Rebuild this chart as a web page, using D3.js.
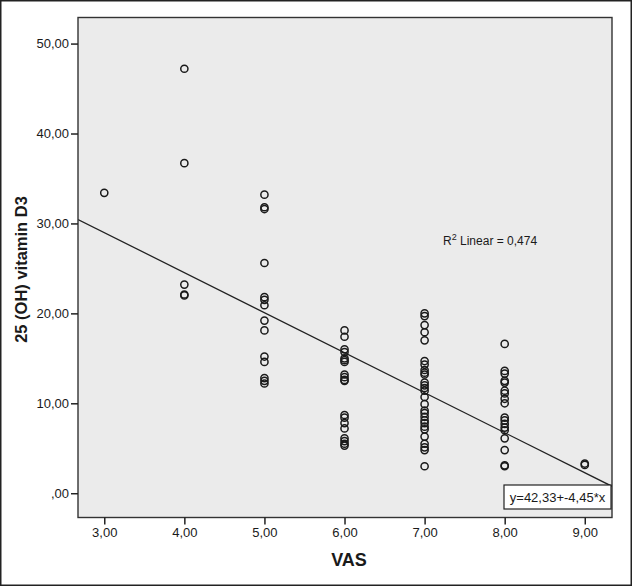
<!DOCTYPE html>
<html>
<head>
<meta charset="utf-8">
<script src="https://cdn.jsdelivr.net/npm/d3@7"></script>
<style>
  html, body { margin: 0; padding: 0; background: #fff; }
  svg { display: block; }
  text { font-family: "Liberation Sans", Arial, sans-serif; fill: #1a1a1a; }
</style>
</head>
<body>
<svg id="chart" width="632" height="586"></svg>
<script>
// ---- data ----
const vas3 = [33.4];
const vas4 = [47.2, 36.7, 23.2, 22.1, 22.0];
const vas5 = [33.2, 31.8, 31.6, 25.6, 21.8, 21.5, 20.9, 19.2, 18.1, 15.2, 14.6, 12.8, 12.5, 12.2];
const vas6 = [18.1, 17.4, 16.0, 15.7, 15.0, 14.8, 14.6, 13.2, 12.9, 12.6, 12.5, 8.7, 8.4, 7.8, 7.2, 6.1, 5.8, 5.5, 5.3];
const vas7 = [20.0, 19.7, 18.7, 17.9, 17.0, 14.7, 14.3, 13.7, 13.4, 13.2, 12.3, 12.0, 11.7, 11.4, 10.7, 9.9, 9.2, 8.9, 8.5, 8.1, 7.8, 7.4, 7.1, 6.3, 5.5, 5.1, 4.8, 3.0];
const vas8 = [16.6, 13.6, 13.3, 12.5, 12.3, 11.4, 11.1, 10.5, 10.0, 8.4, 8.1, 7.7, 7.3, 7.0, 6.1, 4.8, 3.1, 3.0];
const vas9 = [3.3, 3.15];

const xTicks = [3, 4, 5, 6, 7, 8, 9];
const xTickLabels = ["3,00", "4,00", "5,00", "6,00", "7,00", "8,00", "9,00"];
const yTicks = [0, 10, 20, 30, 40, 50];
const yTickLabels = [",00", "10,00", "20,00", "30,00", "40,00", "50,00"];

const fitIntercept = 42.33;
const fitSlope = -4.45;
const r2Label = "0,474";
const eqLabel = "y=42,33+-4,45*x";
const xTitle = "VAS";
const yTitle = "25 (OH) vitamin D3";

const groups = [[3, vas3], [4, vas4], [5, vas5], [6, vas6], [7, vas7], [8, vas8], [9, vas9]];
const points = [];
groups.forEach(([v, arr]) => arr.forEach(d => points.push({ x: v, y: d })));

// ---- layout ----
const W = 632, H = 586;
const plot = { left: 78, top: 17.5, right: 612, bottom: 517.5 };

const x = d3.scaleLinear().domain([2.672, 9.34]).range([plot.left, plot.right]);
const y = d3.scaleLinear().domain([-2.7, 52.9]).range([plot.bottom, plot.top]);

const svg = d3.select("#chart");

// outer frame
svg.append("rect").attr("x", 0.75).attr("y", 0.75).attr("width", W - 1.5).attr("height", H - 1.5)
  .attr("fill", "#fff").attr("stroke", "#222").attr("stroke-width", 1.5);

// plot background
svg.append("rect").attr("x", plot.left).attr("y", plot.top)
  .attr("width", plot.right - plot.left).attr("height", plot.bottom - plot.top)
  .attr("fill", "#ebebeb");

svg.append("clipPath").attr("id", "clip").append("rect")
  .attr("x", plot.left).attr("y", plot.top)
  .attr("width", plot.right - plot.left).attr("height", plot.bottom - plot.top);

// regression line
const [x0, x1] = x.domain();
svg.append("line")
  .attr("clip-path", "url(#clip)")
  .attr("x1", x(x0)).attr("y1", y(fitIntercept + fitSlope * x0))
  .attr("x2", x(x1)).attr("y2", y(fitIntercept + fitSlope * x1))
  .attr("stroke", "#222").attr("stroke-width", 1.3);

// points
svg.append("g").attr("clip-path", "url(#clip)")
  .selectAll("circle").data(points).enter().append("circle")
  .attr("cx", d => x(d.x)).attr("cy", d => y(d.y)).attr("r", 3.6)
  .attr("fill", "none").attr("stroke", "#1a1a1a").attr("stroke-width", 1.5);

// plot border
svg.append("rect").attr("x", plot.left).attr("y", plot.top)
  .attr("width", plot.right - plot.left).attr("height", plot.bottom - plot.top)
  .attr("fill", "none").attr("stroke", "#333").attr("stroke-width", 1.4);

// axes
const xAxis = d3.axisBottom(x).tickValues(xTicks).tickSize(7).tickSizeOuter(0)
  .tickFormat((d, i) => xTickLabels[i]);
const gx = svg.append("g").attr("transform", `translate(0,${plot.bottom})`).call(xAxis);
gx.select(".domain").remove();
gx.selectAll(".tick line").attr("stroke", "#222").attr("stroke-width", 1.5);
gx.selectAll(".tick text").attr("y", 10).attr("dy", "0.71em")
  .style("font-size", "13px").style("font-family", "'Liberation Sans', Arial, sans-serif").attr("fill", "#1a1a1a");

const yAxis = d3.axisLeft(y).tickValues(yTicks).tickSize(7).tickSizeOuter(0)
  .tickFormat((d, i) => yTickLabels[i]);
const gy = svg.append("g").attr("transform", `translate(${plot.left},0)`).call(yAxis);
gy.select(".domain").remove();
gy.selectAll(".tick line").attr("stroke", "#222").attr("stroke-width", 1.5);
gy.selectAll(".tick text").attr("x", -9)
  .style("font-size", "13px").style("font-family", "'Liberation Sans', Arial, sans-serif").attr("fill", "#1a1a1a");

// axis titles
svg.append("text").attr("x", (plot.left + plot.right) / 2 + 4).attr("y", 566)
  .attr("text-anchor", "middle").style("font-size", "18px").style("font-weight", "bold")
  .text(xTitle);

svg.append("text").attr("transform", `translate(27,${(plot.top + plot.bottom) / 2 + 2}) rotate(-90)`)
  .attr("text-anchor", "middle").style("font-size", "16.5px").style("font-weight", "bold")
  .text(yTitle);

// R² annotation
const r2 = svg.append("text").attr("x", 443).attr("y", 245).style("font-size", "12px");
r2.append("tspan").text("R");
r2.append("tspan").attr("dy", -5).style("font-size", "9px").text("2");
r2.append("tspan").attr("dy", 5).text(" Linear = " + r2Label);

// equation box
svg.append("rect").attr("x", 504).attr("y", 485).attr("width", 107).attr("height", 24)
  .attr("fill", "#fff").attr("stroke", "#222").attr("stroke-width", 1.2);
svg.append("text").attr("x", 557.5).attr("y", 502).attr("text-anchor", "middle")
  .style("font-size", "13px").text(eqLabel);
</script>
</body>
</html>
